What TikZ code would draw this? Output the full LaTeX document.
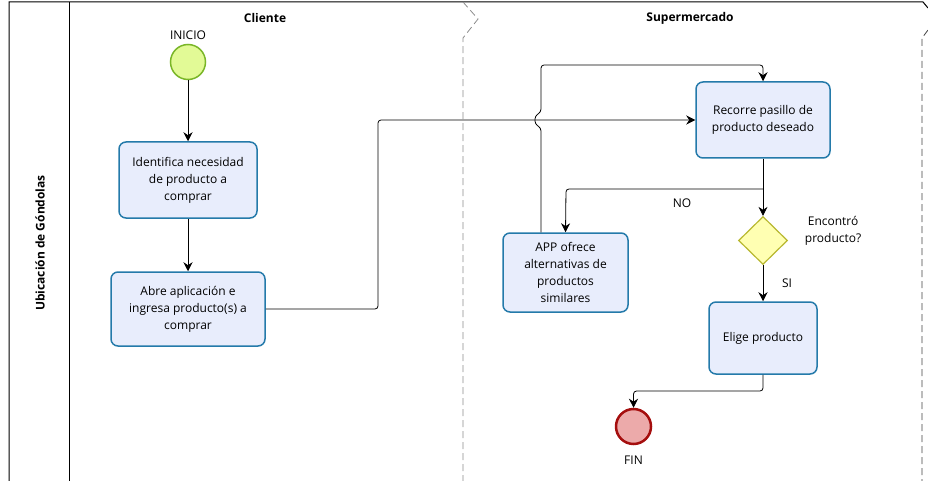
\documentclass[tikz,border=0pt]{standalone}
\usepackage{fontspec}
\setmainfont{Open Sans}
\usetikzlibrary{shapes.geometric,arrows.meta,positioning}

\definecolor{taskFill}{RGB}{232,237,252}
\definecolor{taskLine}{RGB}{36,122,170}
\definecolor{startFill}{RGB}{226,250,150}
\definecolor{startLine}{RGB}{122,182,40}
\definecolor{endFill}{RGB}{236,170,170}
\definecolor{endLine}{RGB}{165,14,14}
\definecolor{gateFill}{RGB}{255,255,178}
\definecolor{gateLine}{RGB}{184,184,48}

\begin{document}
\begin{tikzpicture}[
    % 定義樣式
    x=1pt, y=-1pt,
    >={Stealth[length=9pt,width=9pt]},
    flow/.style={->,line width=0.8pt,rounded corners=3pt},
    txt/.style={font=\fontsize{12}{17}\selectfont,align=center},
    task/.style={txt,rectangle,rounded corners=7pt,draw=taskLine,fill=taskFill,line width=1.5pt,inner sep=2pt},
    start event/.style={circle,draw=startLine,fill=startFill,line width=1.5pt,minimum size=35pt,inner sep=0pt},
    end event/.style={circle,draw=endLine,fill=endFill,line width=2.5pt,minimum size=35pt,inner sep=0pt},
    gateway/.style={diamond,draw=gateLine,fill=gateFill,line width=1.2pt,minimum width=49pt,minimum height=48pt,inner sep=0pt},
    lane title/.style={font=\fontsize{12}{14}\selectfont\bfseries},
    lane line/.style={dashed,dash pattern=on 7pt off 4pt,line width=0.8pt}
]
    \useasboundingbox (0,0) rectangle (928,481);

    % --- 1. 繪製 Pool 與 Lanes ---
    \draw[line width=1pt] (9,481) -- (9,2) -- (923,2) -- (928,8);
    \draw[line width=1pt] (69,2) -- (69,481);
    \draw[lane line,black!45] (463,2) -- (478,19) -- (463,38) -- (463,481);
    \draw[lane line,black!75] (928,30) -- (922,38) -- (922,481);

    \node[lane title,rotate=90] (pool) at (40,243) {Ubicación de Góndolas};
    \node[lane title] (cliente) at (265,18) {Cliente};
    \node[lane title] (super) at (690,18) {Supermercado};

    % --- 2. 繪製 Cliente ---
    \node[start event] (inicio) at (188,62) {};
    \node[txt,above=1pt of inicio] {INICIO};
    \node[task,minimum width=138pt,minimum height=76pt] (identifica) at (188,180)
        {Identifica necesidad\\de producto a\\comprar};
    \node[task,minimum width=154pt,minimum height=74pt] (abre) at (188,309)
        {Abre aplicación e\\ingresa producto(s) a\\comprar};

    % --- 3. 繪製 Supermercado ---
    \node[task,minimum width=134pt,minimum height=76pt] (recorre) at (763,120)
        {Recorre pasillo de\\producto deseado};
    \node[gateway] (encontro) at (763,240.5) {};
    \node[txt] (pregunta) at ([xshift=45pt,yshift=10pt]encontro.east)
        {Encontró\\producto?};
    \node[task,minimum width=125pt,minimum height=79pt] (app) at (565.5,272.5)
        {APP ofrece\\alternativas de\\productos\\similares};
    \node[task,minimum width=108pt,minimum height=72pt] (elige) at (763,338)
        {Elige producto};
    \node[end event] (fin) at (633.5,426.5) {};
    \node[txt,below=7pt of fin] {FIN};

    % --- 4. 連接線 (Flows) ---
    \draw[flow] (inicio) -- (identifica);
    \draw[flow] (identifica) -- (abre);
    \draw[flow] (abre.east) -- (378,309) -- (378,120) -- (recorre.west);
    \draw[flow] ([xshift=-24.5pt]app.north) -- (541,128) -- (535,124) -- (535,116)
        -- (541,112) -- (541,65) -- (763,65) -- (recorre.north);
    \draw[flow] (recorre) -- (encontro);
    \draw[flow] (763,189) -- (566,189) -- (app.north);
    \draw[flow] (encontro) -- (elige);
    \draw[flow] (elige.south) -- (763,391) -- (633.5,391) -- (fin.north);

    % --- 5. 加上標籤 (Labels) ---
    \node[txt] (no) at (682,203) {NO};
    \node[txt] (si) at (787,283) {SI};

\end{tikzpicture}
\end{document}
